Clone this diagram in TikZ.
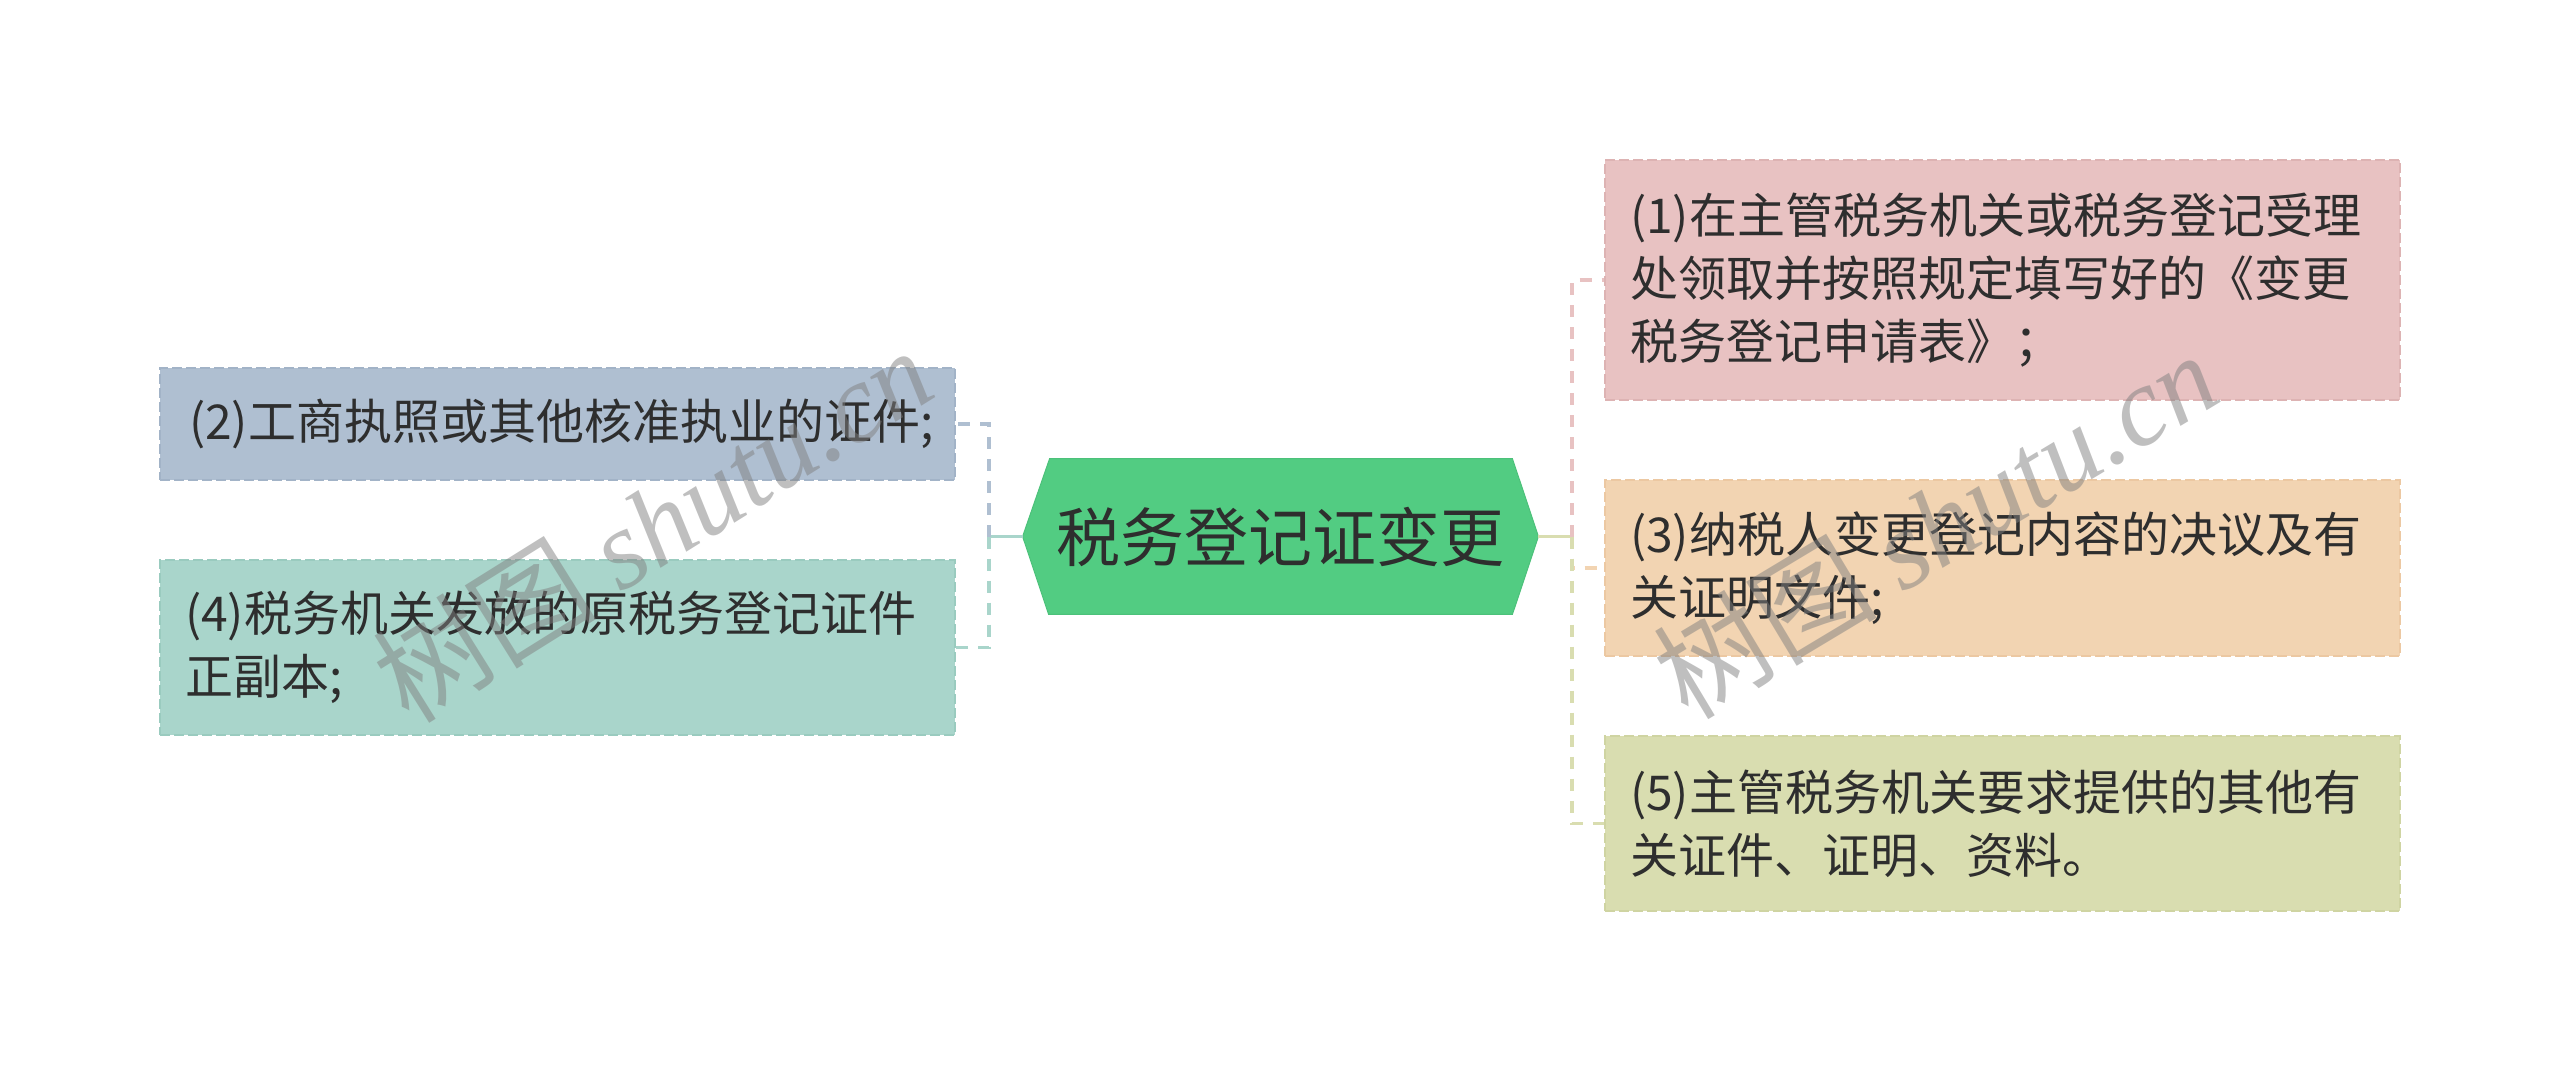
\documentclass[tikz,border=0pt]{standalone}
\usepackage{fontspec}
\setmainfont{Noto Sans CJK SC}
\newfontfamily\wmserif{Liberation Serif}
\usetikzlibrary{backgrounds}

\definecolor{rootgreen}{HTML}{52CC82}
\definecolor{rootedge}{HTML}{4CC17A}
\definecolor{txt}{HTML}{2E2E2E}
\definecolor{pinkfill}{HTML}{E8C2C2}
\definecolor{pinkline}{HTML}{DDB3B3}
\definecolor{peachfill}{HTML}{F2D4B2}
\definecolor{peachline}{HTML}{ECC8A2}
\definecolor{olivefill}{HTML}{D9DDB0}
\definecolor{oliveline}{HTML}{CFD4A2}
\definecolor{bluefill}{HTML}{AFBFD1}
\definecolor{blueline}{HTML}{A2B3C7}
\definecolor{tealfill}{HTML}{A9D5CB}
\definecolor{tealline}{HTML}{9ACBBF}

\tikzset{
  leafbox/.style={rectangle, inner xsep=12.5pt, inner ysep=0pt,
    text width=372.5pt, align=left, text=txt,
    font=\fontsize{24pt}{31.5pt}\selectfont,
    line width=1pt, dash pattern=on 5pt off 2pt},
  rootnode/.style={rectangle, inner sep=0pt, minimum width=257.5pt,
    minimum height=77.5pt, text=txt, font=\fontsize{32pt}{38pt}\selectfont},
  solidlink/.style={line width=1.6pt},
  dashlink/.style={line width=1.6pt, dash pattern=on 6pt off 5pt},
  wm/.style={text=black!50, opacity=0.5, font=\fontsize{56pt}{60pt}\selectfont,
    inner sep=0pt}
}

\begin{document}
\begin{tikzpicture}[x=0.5pt,y=-0.5pt]
\useasboundingbox (0,0) rectangle (2560,1072);

% central node
\node[rootnode] (root) at (1280.5,536.5) {税务登记证变更};
\begin{scope}[on background layer]
  \filldraw[fill=rootgreen, draw=rootedge, line width=0.5pt]
    (root.west) -- ([xshift=13.5pt]root.north west) -- ([xshift=-13pt]root.north east)
    -- (root.east) -- ([xshift=-13pt]root.south east) -- ([xshift=13pt]root.south west) -- cycle;
\end{scope}

% leaves
\node[leafbox, fill=pinkfill, draw=pinkline, minimum height=120pt] (b1) at (2002.5,280)
  {(1)在主管税务机关或税务登记受理\\处领取并按照规定填写好的《变更\\税务登记申请表》；};
\node[leafbox, fill=peachfill, draw=peachline, minimum height=88pt] (b3) at (2002.5,568)
  {(3)纳税人变更登记内容的决议及有\\关证明文件;};
\node[leafbox, fill=olivefill, draw=oliveline, minimum height=87.5pt] (b5) at (2002.5,823.5)
  {(5)主管税务机关要求提供的其他有\\关证件、证明、资料。};
\node[leafbox, fill=bluefill, draw=blueline, minimum height=56pt] (b2) at (557.5,424)
  {\hspace*{2pt}(2)工商执照或其他核准执业的证件;};
\node[leafbox, fill=tealfill, draw=tealline, minimum height=87.5pt] (b4) at (557.5,647.5)
  {(4)税务机关发放的原税务登记证件\\正副本;};

% junctions
\coordinate (lj) at (989,536.5);
\coordinate (rj) at (1572,536.5);

% connectors left
\draw[solidlink, tealfill] (root.west) -- (lj);
\draw[dashlink, bluefill] (lj) |- (b2.east);
\draw[dashlink, tealfill] (lj) |- (b4.east);

% connectors right
\draw[solidlink, olivefill] (root.east) -- (rj);
\draw[dashlink, pinkfill] (rj) |- (b1.west);
\draw[dashlink, peachfill] (rj) |- (b3.west);
\draw[dashlink, olivefill] (rj) |- (b5.west);

% watermarks
\node[wm, rotate=32] (wm1) at (652,524) {树图 {\wmserif\itshape shutu.cn}};
\node[wm, rotate=31] (wm2) at (1935,524) {树图 {\wmserif\itshape shutu.cn}};
\end{tikzpicture}
\end{document}
